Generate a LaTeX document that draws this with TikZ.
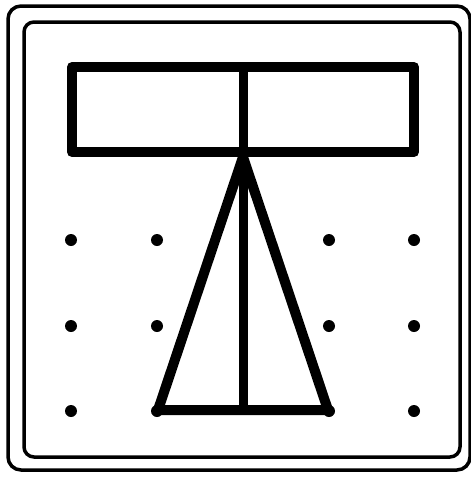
\documentclass[tikz,border=0pt]{standalone}
\begin{document}
\begin{tikzpicture}[x=1pt, y=-1pt, line join=round]
    \useasboundingbox (0,0) rectangle (471,477);
    % 外框
    \draw[line width=3.5pt, rounded corners=13pt] (8,6) rectangle (470,470);
    \draw[line width=3.5pt, rounded corners=10pt] (24,22) rectangle (460,457);

    % 上方矩形
    \draw[line width=10pt] (72,67) rectangle (414,152);

    % 三角形
    \draw[line width=10pt] (243,157) -- (158,410) -- (328,410) -- cycle;
    \draw[line width=9pt] (243,67) -- (243,410);

    % 点阵
    \foreach \x in {71,157,329,414}
        \foreach \y in {240,326,411}
            \fill (\x,\y) circle (6pt);
\end{tikzpicture}
\end{document}
